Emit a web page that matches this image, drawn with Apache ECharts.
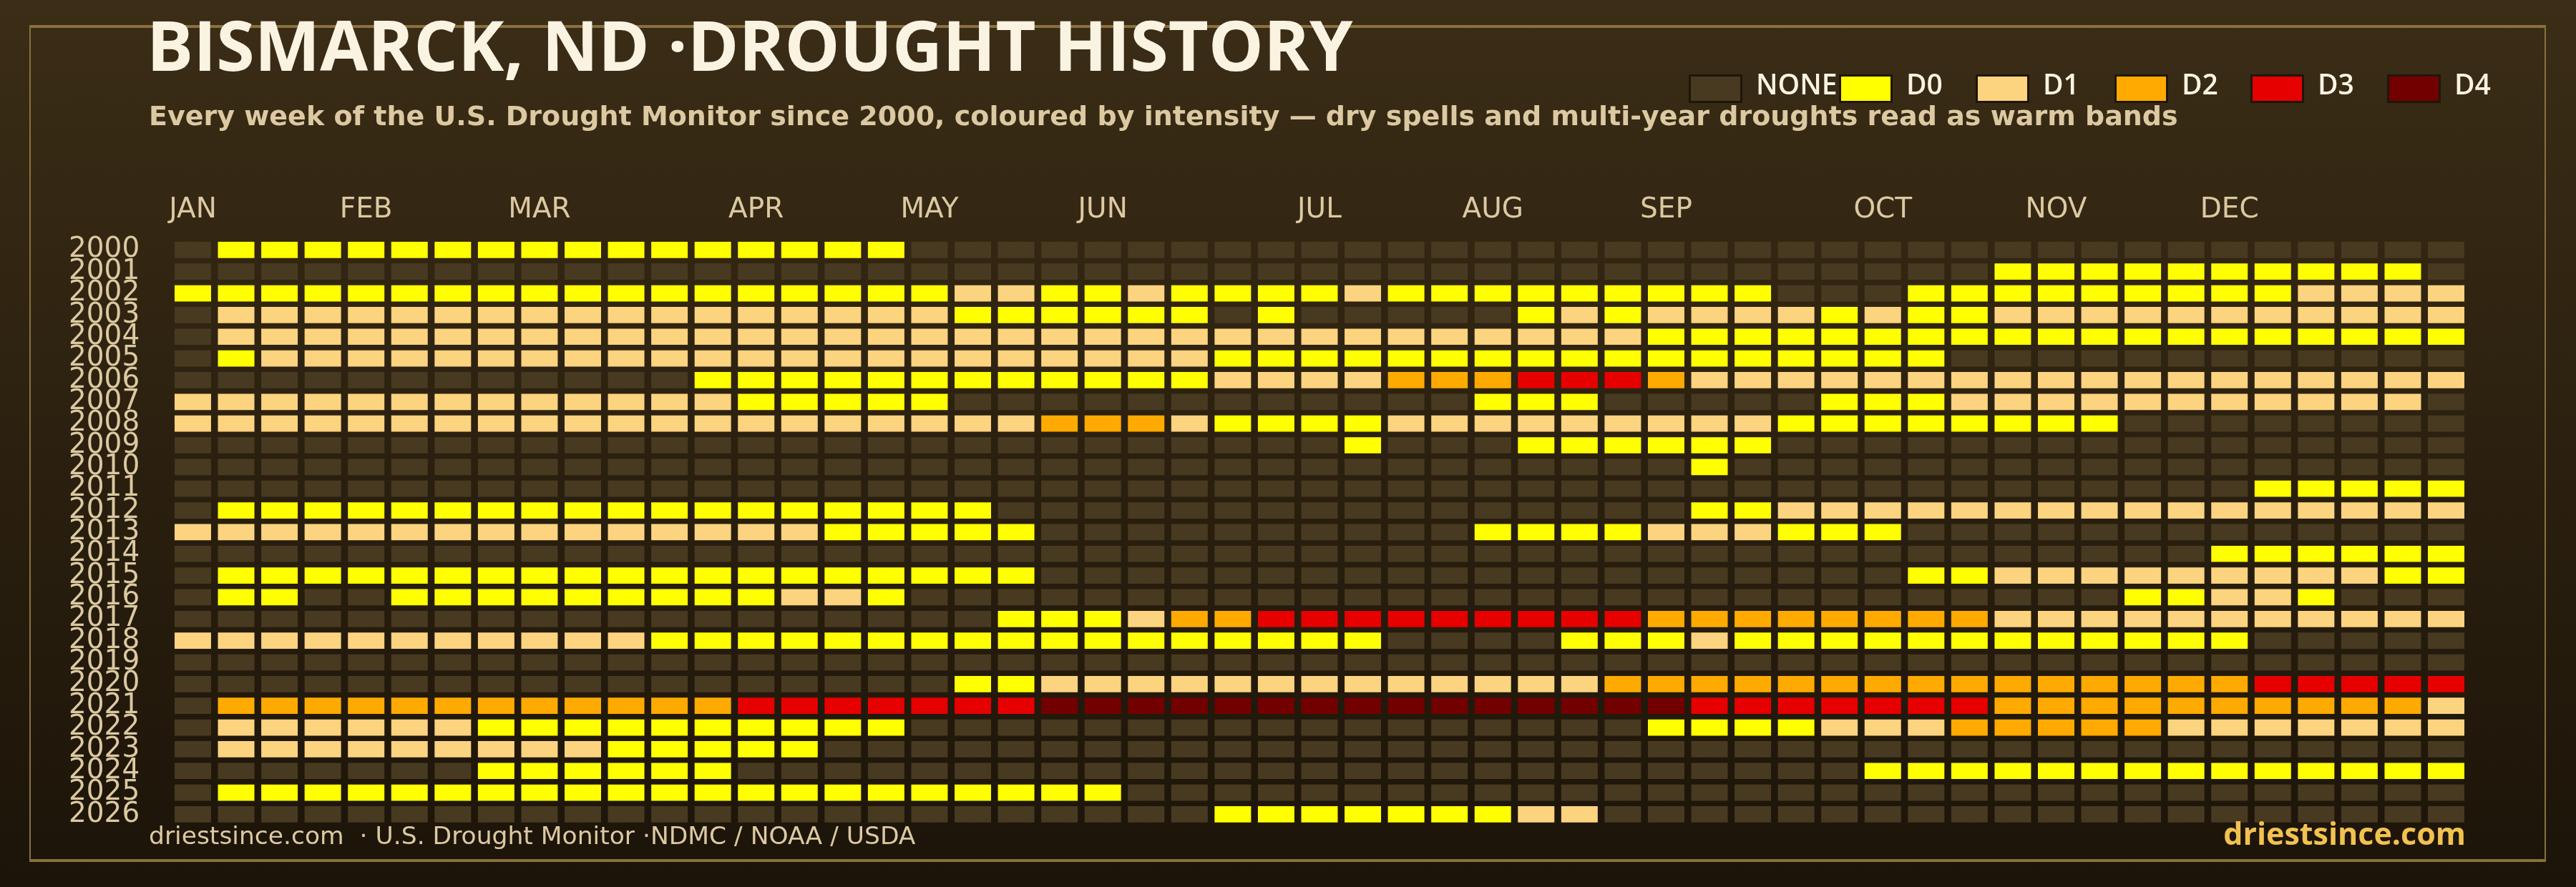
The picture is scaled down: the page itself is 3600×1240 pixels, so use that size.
<!DOCTYPE html>
<html>
<head>
<meta charset="utf-8">
<script src="https://cdn.jsdelivr.net/npm/echarts@6/dist/echarts.min.js"></script>
<style>
html,body{margin:0;padding:0;background:#2b2011;}
#chart{width:3600px;height:1240px;}
</style>
</head>
<body>
<div id="chart"></div>
<script>
// ---------------- DATA ----------------
const years = ['2000','2001','2002','2003','2004','2005','2006','2007','2008','2009','2010','2011','2012',
  '2013','2014','2015','2016','2017','2018','2019','2020','2021','2022','2023','2024','2025','2026'];
const monthNames = ['JAN','FEB','MAR','APR','MAY','JUN','JUL','AUG','SEP','OCT','NOV','DEC'];
const monthStartWeek = [0,4,8,13,17,21,26,30,34,39,43,47];
const levelNames = ['NONE','D0','D1','D2','D3','D4'];
const levelColors = ['#483a20','#ffff00','#fcd37f','#ffaa00','#e60000','#730000'];

// weekly drought level per year (0 = none, 1 = D0 ... 5 = D4), 53 weeks
const y2000 = [0,1,1,1,1,1,1,1,1,1, 1,1,1,1,1,1,1,0,0,0, 0,0,0,0,0,0,0,0,0,0, 0,0,0,0,0,0,0,0,0,0, 0,0,0,0,0,0,0,0,0,0, 0,0,0];
const y2001 = [0,0,0,0,0,0,0,0,0,0, 0,0,0,0,0,0,0,0,0,0, 0,0,0,0,0,0,0,0,0,0, 0,0,0,0,0,0,0,0,0,0, 0,0,1,1,1,1,1,1,1,1, 1,1,0];
const y2002 = [1,1,1,1,1,1,1,1,1,1, 1,1,1,1,1,1,1,1,2,2, 1,1,2,1,1,1,1,2,1,1, 1,1,1,1,1,1,1,0,0,0, 1,1,1,1,1,1,1,1,1,2, 2,2,2];
const y2003 = [0,2,2,2,2,2,2,2,2,2, 2,2,2,2,2,2,2,2,1,1, 1,1,1,1,0,1,0,0,0,0, 0,1,2,1,2,2,2,2,1,2, 1,1,2,2,2,2,2,2,2,2, 2,2,2];
const y2004 = [0,2,2,2,2,2,2,2,2,2, 2,2,2,2,2,2,2,2,2,2, 2,2,2,2,2,2,2,2,2,2, 2,2,2,2,1,1,1,1,1,1, 1,1,1,1,1,1,1,1,1,1, 1,1,1];
const y2005 = [0,1,2,2,2,2,2,2,2,2, 2,2,2,2,2,2,2,2,2,2, 2,2,2,2,1,1,1,1,1,1, 1,1,1,1,1,1,1,1,1,1, 1,0,0,0,0,0,0,0,0,0, 0,0,0];
const y2006 = [0,0,0,0,0,0,0,0,0,0, 0,0,1,1,1,1,1,1,1,1, 1,1,1,1,2,2,2,2,3,3, 3,4,4,4,3,2,2,2,2,2, 2,2,2,2,2,2,2,2,2,2, 2,2,2];
const y2007 = [2,2,2,2,2,2,2,2,2,2, 2,2,2,1,1,1,1,1,0,0, 0,0,0,0,0,0,0,0,0,0, 1,1,1,0,0,0,0,0,1,1, 1,2,2,2,2,2,2,2,2,2, 2,2,0];
const y2008 = [2,2,2,2,2,2,2,2,2,2, 2,2,2,2,2,2,2,2,2,2, 3,3,3,2,1,1,1,1,2,2, 2,2,2,2,2,2,2,1,1,1, 1,1,1,1,1,0,0,0,0,0, 0,0,0];
const y2009 = [0,0,0,0,0,0,0,0,0,0, 0,0,0,0,0,0,0,0,0,0, 0,0,0,0,0,0,0,1,0,0, 0,1,1,1,1,1,1,0,0,0, 0,0,0,0,0,0,0,0,0,0, 0,0,0];
const y2010 = [0,0,0,0,0,0,0,0,0,0, 0,0,0,0,0,0,0,0,0,0, 0,0,0,0,0,0,0,0,0,0, 0,0,0,0,0,1,0,0,0,0, 0,0,0,0,0,0,0,0,0,0, 0,0,0];
const y2011 = [0,0,0,0,0,0,0,0,0,0, 0,0,0,0,0,0,0,0,0,0, 0,0,0,0,0,0,0,0,0,0, 0,0,0,0,0,0,0,0,0,0, 0,0,0,0,0,0,0,0,1,1, 1,1,1];
const y2012 = [0,1,1,1,1,1,1,1,1,1, 1,1,1,1,1,1,1,1,1,0, 0,0,0,0,0,0,0,0,0,0, 0,0,0,0,0,1,1,2,2,2, 2,2,2,2,2,2,2,2,2,2, 2,2,2];
const y2013 = [2,2,2,2,2,2,2,2,2,2, 2,2,2,2,2,1,1,1,1,1, 0,0,0,0,0,0,0,0,0,0, 1,1,1,1,2,2,2,1,1,1, 0,0,0,0,0,0,0,0,0,0, 0,0,0];
const y2014 = [0,0,0,0,0,0,0,0,0,0, 0,0,0,0,0,0,0,0,0,0, 0,0,0,0,0,0,0,0,0,0, 0,0,0,0,0,0,0,0,0,0, 0,0,0,0,0,0,0,1,1,1, 1,1,1];
const y2015 = [0,1,1,1,1,1,1,1,1,1, 1,1,1,1,1,1,1,1,1,1, 0,0,0,0,0,0,0,0,0,0, 0,0,0,0,0,0,0,0,0,0, 1,1,2,2,2,2,2,2,2,2, 2,1,1];
const y2016 = [0,1,1,0,0,1,1,1,1,1, 1,1,1,1,2,2,1,0,0,0, 0,0,0,0,0,0,0,0,0,0, 0,0,0,0,0,0,0,0,0,0, 0,0,0,0,0,1,1,2,2,1, 0,0,0];
const y2017 = [0,0,0,0,0,0,0,0,0,0, 0,0,0,0,0,0,0,0,0,1, 1,1,2,3,3,4,4,4,4,4, 4,4,4,4,3,3,3,3,3,3, 3,3,2,2,2,2,2,2,2,2, 2,2,2];
const y2018 = [2,2,2,2,2,2,2,2,2,2, 2,1,1,1,1,1,1,1,1,1, 1,1,1,1,1,1,1,1,0,0, 0,0,1,1,1,2,1,1,1,1, 1,1,1,1,1,1,1,1,0,0, 0,0,0];
const y2019 = [0,0,0,0,0,0,0,0,0,0, 0,0,0,0,0,0,0,0,0,0, 0,0,0,0,0,0,0,0,0,0, 0,0,0,0,0,0,0,0,0,0, 0,0,0,0,0,0,0,0,0,0, 0,0,0];
const y2020 = [0,0,0,0,0,0,0,0,0,0, 0,0,0,0,0,0,0,0,1,1, 2,2,2,2,2,2,2,2,2,2, 2,2,2,3,3,3,3,3,3,3, 3,3,3,3,3,3,3,3,4,4, 4,4,4];
const y2021 = [0,3,3,3,3,3,3,3,3,3, 3,3,3,4,4,4,4,4,4,4, 5,5,5,5,5,5,5,5,5,5, 5,5,5,5,5,4,4,4,4,4, 4,4,3,3,3,3,3,3,3,3, 3,3,2];
const y2022 = [0,2,2,2,2,2,2,1,1,1, 1,1,1,1,1,1,1,0,0,0, 0,0,0,0,0,0,0,0,0,0, 0,0,0,0,1,1,1,1,2,2, 2,3,3,3,3,3,2,2,2,2, 2,2,2];
const y2023 = [0,2,2,2,2,2,2,2,2,2, 1,1,1,1,1,0,0,0,0,0, 0,0,0,0,0,0,0,0,0,0, 0,0,0,0,0,0,0,0,0,0, 0,0,0,0,0,0,0,0,0,0, 0,0,0];
const y2024 = [0,0,0,0,0,0,0,1,1,1, 1,1,1,0,0,0,0,0,0,0, 0,0,0,0,0,0,0,0,0,0, 0,0,0,0,0,0,0,0,0,1, 1,1,1,1,1,1,1,1,1,1, 1,1,1];
const y2025 = [0,1,1,1,1,1,1,1,1,1, 1,1,1,1,1,1,1,1,1,1, 1,1,0,0,0,0,0,0,0,0, 0,0,0,0,0,0,0,0,0,0, 0,0,0,0,0,0,0,0,0,0, 0,0,0];
const y2026 = [0,0,0,0,0,0,0,0,0,0, 0,0,0,0,0,0,0,0,0,0, 0,0,0,0,1,1,1,1,1,1, 1,2,2,0,0,0,0,0,0,0, 0,0,0,0,0,0,0,0,0,0, 0,0,0];

const weeklyLevels = [y2000,y2001,y2002,y2003,y2004,y2005,y2006,y2007,y2008,y2009,y2010,y2011,y2012,
  y2013,y2014,y2015,y2016,y2017,y2018,y2019,y2020,y2021,y2022,y2023,y2024,y2025,y2026];

// ---------------- CHART ----------------
const weeks = weeklyLevels[0].map((_, i) => 'W' + (i + 1));
const cells = [];
weeklyLevels.forEach((row, yi) => row.forEach((lv, wi) => cells.push([wi, yi, lv])));

const FONT = "'Open Sans', 'Noto Sans', sans-serif";
const DJ = "'DejaVu Sans', sans-serif";
const TAN = '#dcc9a2';
const CREAM = '#fbf3e2';

const legendX = [2360, 2570, 2761, 2955, 3145, 3336];
const legendGraphics = [];
levelNames.forEach((name, i) => {
  legendGraphics.push({
    type: 'rect', z: 10,
    shape: { x: legendX[i] + 1.5, y: 105.5, width: 72, height: 37 },
    style: { fill: levelColors[i], stroke: '#1f160a', lineWidth: 3 }
  });
  legendGraphics.push({
    type: 'text', z: 10,
    style: { x: legendX[i] + 94, y: 121, text: name, fill: CREAM,
      font: '600 39px ' + FONT, textAlign: 'left', textVerticalAlign: 'middle', align: 'left', verticalAlign: 'middle' }
  });
});

const chart = echarts.init(document.getElementById('chart'), null, { renderer: 'canvas' });
chart.setOption({
  animation: false,
  backgroundColor: {
    type: 'linear', x: 0, y: 0, x2: 0, y2: 1,
    colorStops: [{ offset: 0, color: '#3b2d16' }, { offset: 1, color: '#1c1409' }]
  },
  grid: { left: 239.2, top: 334.2, width: 3209.6, height: 819.4 },
  xAxis: {
    type: 'category', data: weeks, position: 'top',
    axisLine: { show: false }, axisTick: { show: false }, splitLine: { show: false },
    axisLabel: {
      interval: 0, margin: 21, color: TAN, fontSize: 39, fontWeight: 400, fontFamily: DJ,
      formatter: (v, idx) => { const m = monthStartWeek.indexOf(idx); return m >= 0 ? monthNames[m] : ''; }
    }
  },
  yAxis: {
    type: 'category', data: years, inverse: true,
    axisLine: { show: false }, axisTick: { show: false }, splitLine: { show: false },
    axisLabel: { interval: 0, margin: 44, color: TAN, fontSize: 39, fontWeight: 400, fontFamily: DJ }
  },
  series: [{
    type: 'custom',
    data: cells,
    encode: { x: 0, y: 1 },
    renderItem: (params, api) => {
      const c = api.coord([api.value(0), api.value(1)]);
      const s = api.size([1, 1]);
      const w = s[0] * 0.842, h = s[1] * 0.748;
      return {
        type: 'rect',
        shape: { x: c[0] - w / 2, y: c[1] - h / 2, width: w, height: h },
        style: { fill: levelColors[api.value(2)] }
      };
    }
  }],
  graphic: [
    { type: 'rect', z: 1, shape: { x: 42, y: 37, width: 3515, height: 1166 },
      style: { fill: 'none', stroke: '#8a7040', lineWidth: 2 } },
    { type: 'rect', z: 1, shape: { x: 41, y: 35, width: 3517, height: 4 }, style: { fill: '#8a7040' } },
    { type: 'rect', z: 1, shape: { x: 41, y: 1201, width: 3517, height: 4 }, style: { fill: '#8a7040' } },
    { type: 'text', z: 10,
      style: { x: 205, y: 71, text: 'BISMARCK, ND ·DROUGHT HISTORY', fill: CREAM,
        font: 'bold 97px ' + FONT, textAlign: 'left', textVerticalAlign: 'middle', align: 'left', verticalAlign: 'middle' } },
    { type: 'text', z: 10,
      style: { x: 208, y: 165, text: 'Every week of the U.S. Drought Monitor since 2000, coloured by intensity — dry spells and multi-year droughts read as warm bands',
        fill: TAN, font: 'bold 38px ' + DJ, textAlign: 'left', textVerticalAlign: 'middle', align: 'left', verticalAlign: 'middle' } },
    { type: 'text', z: 10,
      style: { x: 208, y: 1171, text: 'driestsince.com  · U.S. Drought Monitor ·NDMC / NOAA / USDA',
        fill: TAN, font: '400 34.5px ' + DJ, textAlign: 'left', textVerticalAlign: 'middle', align: 'left', verticalAlign: 'middle' } },
    { type: 'text', z: 10,
      style: { x: 3446, y: 1169, text: 'driestsince.com',
        fill: '#f2c250', font: 'bold 43px ' + FONT, textAlign: 'right', textVerticalAlign: 'middle', align: 'right', verticalAlign: 'middle' } }
  ].concat(legendGraphics)
});
</script>
</body>
</html>
